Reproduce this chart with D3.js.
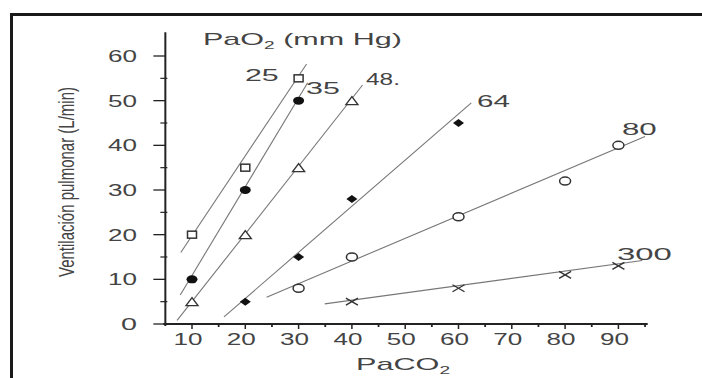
<!DOCTYPE html>
<html>
<head>
<meta charset="utf-8">
<script src="https://cdn.jsdelivr.net/npm/d3@7/dist/d3.min.js"></script>
<style>
  html, body { margin: 0; padding: 0; background: #fff; }
  svg text { font-family: "Liberation Sans", Arial, Helvetica, sans-serif; fill: #444; }
</style>
</head>
<body>
<svg id="chart" width="702" height="378"></svg>
<script>
// PaO2 curves (mm Hg)
var seriesNames = ["25", "35", "48.", "64", "80", "300"];
var seriesMarkers = ["square", "dot", "triangle", "diamond", "circle", "cross"];

// measured points, x = PaCO2, y = ventilation (L/min)
var points25 = [[10, 20], [20, 35], [30, 55]];
var points35 = [[10, 10], [20, 30], [30, 50]];
var points48 = [[10, 5], [20, 20], [30, 35], [40, 50]];
var points64 = [[20, 5], [30, 15], [40, 28], [60, 45]];
var points80 = [[30, 8], [40, 15], [60, 24], [80, 32], [90, 40]];
var points300 = [[40, 5], [60, 8], [80, 11], [90, 13]];

// fitted line extents
var lineStart = [[7.9, 16], [7.8, 6.5], [7.2, 0.8], [16, 1.6], [24, 6], [34.9, 4.5]];
var lineEnd = [[31.5, 58.2], [31.7, 54], [42, 53.5], [62.4, 49.5], [95, 42], [94.5, 14.2]];

var xTicks = [10, 20, 30, 40, 50, 60, 70, 80, 90];
var xMinor = [15, 25, 35, 45, 55, 65, 75, 85, 95];
var yTicks = [0, 10, 20, 30, 40, 50, 60];
var yMinor = [5, 15, 25, 35, 45, 55];

var allPoints = [points25, points35, points48, points64, points80, points300];

var svg = d3.select("#chart");

var x = d3.scaleLinear().domain([0, 100]).range([138.7, 671.7]);
var y = d3.scaleLinear().domain([0, 60]).range([324, 56]);

// stretch text horizontally to the width it has in the figure
function fitText(sel, w, ax) {
    var b = sel.node().getBBox();
    var k = w / b.width;
    sel.attr("transform", "translate(" + ax + ",0) scale(" + k + ",1) translate(" + (-ax) + ",0)");
}

// frame
svg.append("rect")
    .attr("x", 11.5).attr("y", 14.5)
    .attr("width", 720).attr("height", 400)
    .attr("fill", "none").attr("stroke", "#1a1a1a").attr("stroke-width", 3);

// axes
var axisColor = "#222";
svg.append("line")
    .attr("x1", x(5)).attr("x2", x(5))
    .attr("y1", y(0) + 2).attr("y2", y(65.3))
    .attr("stroke", axisColor).attr("stroke-width", 2);
svg.append("line")
    .attr("x1", x(5) - 2).attr("x2", x(95.5))
    .attr("y1", y(0)).attr("y2", y(0))
    .attr("stroke", axisColor).attr("stroke-width", 1.8);

svg.selectAll(".ytick").data(yTicks).enter().append("line")
    .attr("x1", x(5) - 12).attr("x2", x(5))
    .attr("y1", function (d) { return y(d); })
    .attr("y2", function (d) { return y(d); })
    .attr("stroke", axisColor).attr("stroke-width", 1.3);
svg.selectAll(".yminor").data(yMinor).enter().append("line")
    .attr("x1", x(5) - 5).attr("x2", x(5) + 2)
    .attr("y1", function (d) { return y(d); })
    .attr("y2", function (d) { return y(d); })
    .attr("stroke", axisColor).attr("stroke-width", 1.2);

svg.selectAll(".xtick").data(xTicks).enter().append("line")
    .attr("x1", function (d) { return x(d); })
    .attr("x2", function (d) { return x(d); })
    .attr("y1", y(0)).attr("y2", y(0) + 5)
    .attr("stroke", axisColor).attr("stroke-width", 1.5);
svg.selectAll(".xminor").data(xMinor).enter().append("line")
    .attr("x1", function (d) { return x(d); })
    .attr("x2", function (d) { return x(d); })
    .attr("y1", y(0)).attr("y2", y(0) + 3)
    .attr("stroke", axisColor).attr("stroke-width", 1.8);

// tick labels
svg.selectAll(".ylab").data(yTicks).enter().append("text")
    .attr("x", 137).attr("y", function (d) { return y(d) + 6; })
    .attr("text-anchor", "end").attr("font-size", 16.5)
    .text(function (d) { return d; })
    .each(function (d) { fitText(d3.select(this), d == 0 ? 16 : 29, 137); });

svg.selectAll(".xlab").data(xTicks).enter().append("text")
    .attr("x", function (d) { return x(d) - 4; }).attr("y", 345)
    .attr("text-anchor", "middle").attr("font-size", 16.5)
    .text(function (d) { return d; })
    .each(function (d) { fitText(d3.select(this), 29, x(d) - 4); });

// axis titles
var t = svg.append("text").attr("x", 203).attr("y", 45).attr("font-size", 16);
t.append("tspan").text("PaO");
t.append("tspan").attr("font-size", 10).attr("dy", 4).text("2");
t.append("tspan").attr("dy", -4).text(" (mm Hg)");
fitText(t, 199, 203);

var xt = svg.append("text").attr("x", 356).attr("y", 370).attr("font-size", 16);
xt.append("tspan").text("PaCO");
xt.append("tspan").attr("font-size", 10).attr("dy", 4).text("2");
fitText(xt, 95, 356);

svg.append("text")
    .attr("transform", "translate(66,182) scale(1.45,1) rotate(-90)")
    .attr("text-anchor", "middle").attr("dominant-baseline", "central")
    .attr("font-size", 15)
    .text("Ventilación pulmonar (L/min)");

// fitted lines
svg.selectAll(".fit").data(lineStart).enter().append("line")
    .attr("x1", function (d) { return x(d[0]); })
    .attr("y1", function (d) { return y(d[1]); })
    .attr("x2", function (d, i) { return x(lineEnd[i][0]); })
    .attr("y2", function (d, i) { return y(lineEnd[i][1]); })
    .attr("stroke", "#777").attr("stroke-width", 1.1);

// markers
function drawMarker(g, type) {
    var stroke = "#333";
    if (type == "square") {
        g.append("rect").attr("x", -4.5).attr("y", -3.5).attr("width", 9).attr("height", 7)
            .attr("fill", "#fff").attr("stroke", stroke).attr("stroke-width", 1.5);
    } else if (type == "dot") {
        g.append("ellipse").attr("rx", 5.5).attr("ry", 4).attr("fill", "#111");
    } else if (type == "triangle") {
        g.append("path").attr("d", "M-6,4L0,-4L6,4Z")
            .attr("fill", "#fff").attr("stroke", stroke).attr("stroke-width", 1.4);
    } else if (type == "diamond") {
        g.append("path").attr("d", "M-5.5,0L0,-4L5.5,0L0,4Z").attr("fill", "#111");
    } else if (type == "circle") {
        g.append("ellipse").attr("rx", 5.5).attr("ry", 4)
            .attr("fill", "#fff").attr("stroke", stroke).attr("stroke-width", 1.5);
    } else if (type == "cross") {
        g.append("path").attr("d", "M-6,-3.5L6,3.5M-6,3.5L6,-3.5")
            .attr("stroke", stroke).attr("stroke-width", 1.4);
    }
}

allPoints.forEach(function (pts, i) {
    svg.selectAll(".m" + i).data(pts).enter().append("g")
        .attr("transform", function (d) { return "translate(" + x(d[0]) + "," + y(d[1]) + ")"; })
        .each(function () { drawMarker(d3.select(this), seriesMarkers[i]); });
});

// curve labels
var labelPos = [[245, 81, 34], [306, 94, 34], [366, 85, 34], [477, 107, 33], [622, 135, 35], [617, 260, 55]];
seriesNames.forEach(function (name, i) {
    var p = labelPos[i];
    var lt = svg.append("text").attr("x", p[0]).attr("y", p[1]).attr("font-size", 16).text(name);
    fitText(lt, p[2], p[0]);
});
</script>
</body>
</html>
